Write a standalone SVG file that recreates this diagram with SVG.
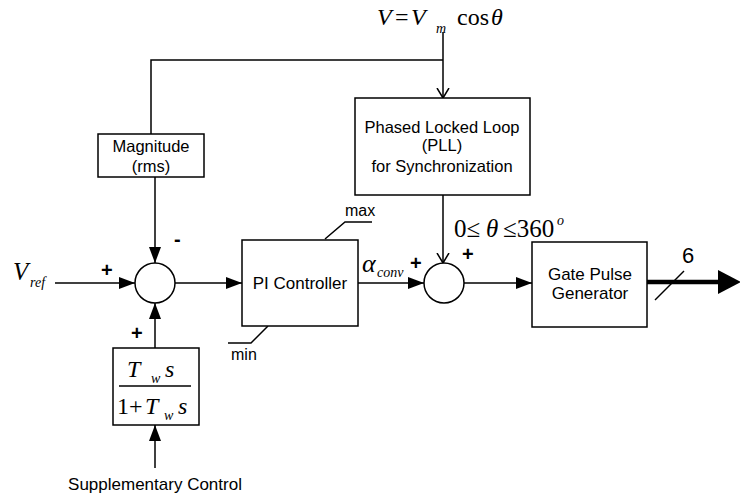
<svg xmlns="http://www.w3.org/2000/svg" width="740" height="498" viewBox="0 0 740 498">
<style>
.b{fill:#fff;stroke:#000;stroke-width:1.5}
.c{fill:none;stroke:#000;stroke-width:1.5}
.t{font-family:"Liberation Sans",Arial,sans-serif;fill:#000}
.tc{text-anchor:middle}
.m{font-family:"Liberation Serif","Times New Roman",serif;fill:#000}
.i{font-style:italic}
.s{font-family:"Liberation Sans",Arial,sans-serif;font-size:20px;font-weight:bold;fill:#000}
</style>
<defs>
<marker id="fa" markerUnits="userSpaceOnUse" markerWidth="16" markerHeight="12" refX="16" refY="6" orient="auto"><path d="M0,0 L16,6 L0,12 z" fill="#000"/></marker>
<marker id="oa" markerUnits="userSpaceOnUse" markerWidth="12" markerHeight="14" refX="10" refY="7" orient="auto"><path d="M0,1 L10,7 L0,13" fill="none" stroke="#000" stroke-width="1.5"/></marker>
</defs>
<g id="connectors">
<path class="c" d="M443,32 L443,98" marker-end="url(#oa)"/>
<path class="c" d="M443,60 L151,60 L151,134"/>
<path class="c" d="M155,177 L155,263" marker-end="url(#fa)"/>
<path class="c" d="M55,283 L135,283" marker-end="url(#fa)"/>
<path class="c" d="M155,348 L155,303" marker-end="url(#fa)"/>
<path class="c" d="M155,468 L155,425" marker-end="url(#fa)"/>
<path class="c" d="M175,283 L242,283" marker-end="url(#fa)"/>
<path class="c" d="M358,283 L424,283" marker-end="url(#fa)"/>
<path class="c" d="M443,195 L443,263" marker-end="url(#oa)"/>
<path class="c" d="M464,283 L532,283" marker-end="url(#fa)"/>
<path d="M647,282 L720,282" fill="none" stroke="#000" stroke-width="4.5"/>
<polygon points="718,270 741,282 718,294" fill="#000"/>
<path class="c" d="M655,300 L684,271"/>
<path class="c" d="M325,239 L345,222 L372,222"/>
<path class="c" d="M268,326 L251,343 L228,343"/>
</g>
<g id="vsource">
<text class="m i" x="377" y="25" font-size="24">V</text>
<text class="m" x="395" y="25" font-size="24">=</text>
<text class="m i" x="411" y="25" font-size="24">V</text>
<text class="m i" x="436" y="33" font-size="14">m</text>
<text class="m" x="457" y="25" font-size="24">cos</text>
<text class="m i" x="491" y="25" font-size="24">θ</text>
</g>
<g id="magnitude">
<rect class="b" x="98" y="134" width="106" height="43"/>
<text class="t tc" x="151" y="152" style="font-size:16.5px">Magnitude</text>
<text class="t tc" x="151" y="172" style="font-size:16.5px">(rms)</text>
</g>
<g id="pll">
<rect class="b" x="355" y="98" width="175" height="97"/>
<text class="t tc" x="442" y="133" style="font-size:16.5px">Phased Locked Loop</text>
<text class="t tc" x="442" y="151" style="font-size:16.5px">(PLL)</text>
<text class="t tc" x="442" y="172" style="font-size:16.5px">for Synchronization</text>
</g>
<g id="theta-label">
<text class="m" x="454" y="237" font-size="25">0≤</text>
<text class="m i" x="486" y="237" font-size="25">θ</text>
<text class="m" x="503" y="237" font-size="25">≤360</text>
<text class="m i" x="557" y="225" font-size="14">o</text>
</g>
<g id="vref">
<text class="m i" x="13" y="280" font-size="25">V</text>
<text class="m i" x="30" y="287" font-size="14">ref</text>
</g>
<g id="sum1">
<circle class="b" cx="155" cy="283" r="20"/>
<text class="s" x="101" y="277">+</text>
<text class="s" x="174" y="246">-</text>
<text class="s" x="131" y="340">+</text>
</g>
<g id="pi">
<rect class="b" x="242" y="240" width="116" height="86"/>
<text class="t tc" x="300" y="289" style="font-size:17px">PI Controller</text>
<text class="t" x="345" y="216" style="font-size:16px">max</text>
<text class="t" x="231" y="360" style="font-size:16px">min</text>
</g>
<g id="alpha">
<text class="m i" x="362" y="272" font-size="26">α</text>
<text class="m i" x="377" y="277" font-size="14">conv</text>
</g>
<g id="sum2">
<circle class="b" cx="444" cy="283" r="20"/>
<text class="s" x="410" y="270">+</text>
<text class="s" x="462" y="261">+</text>
</g>
<g id="gate">
<rect class="b" x="532" y="242" width="115" height="85"/>
<text class="t tc" x="590" y="280" style="font-size:17px">Gate Pulse</text>
<text class="t tc" x="590" y="299" style="font-size:17px">Generator</text>
<text class="t tc" x="688" y="263" style="font-size:22px">6</text>
</g>
<g id="filter">
<rect class="b" x="113" y="348" width="86" height="77"/>
<text class="m i" x="127" y="377" font-size="24">T</text>
<text class="m i" x="151" y="383" font-size="14">w</text>
<text class="m i" x="165" y="377" font-size="24">s</text>
<line class="c" x1="119" y1="386" x2="191" y2="386"/>
<text class="m" x="117" y="414" font-size="24">1+</text>
<text class="m i" x="145" y="414" font-size="24">T</text>
<text class="m i" x="164" y="420" font-size="14">w</text>
<text class="m i" x="178" y="414" font-size="24">s</text>
</g>
<g id="supp">
<text class="t tc" x="155" y="490" style="font-size:17px">Supplementary Control</text>
</g>
</svg>
